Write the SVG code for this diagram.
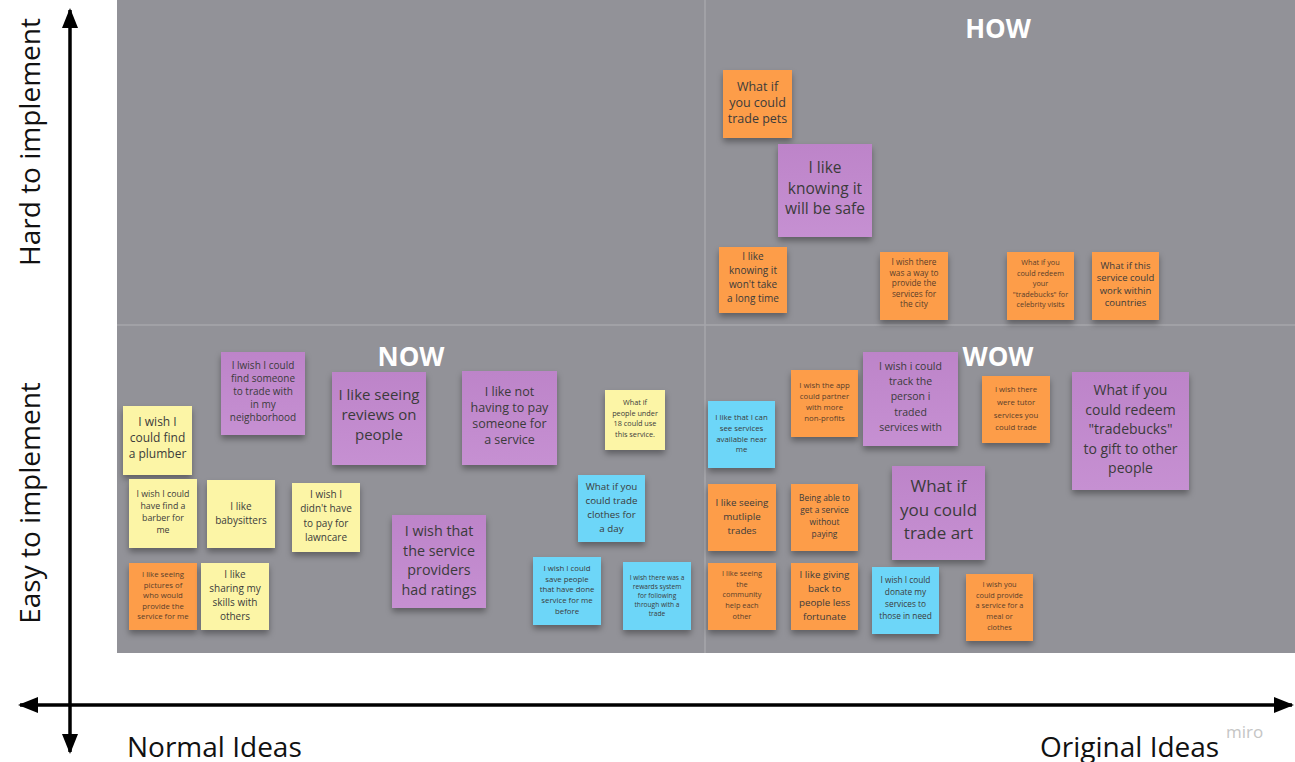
<svg xmlns="http://www.w3.org/2000/svg" width="1295" height="762" viewBox="0 0 1295 762">
<defs>
<filter id="sh" x="-20%" y="-20%" width="140%" height="150%"><feDropShadow dx="0" dy="4" stdDeviation="3" flood-color="#000" flood-opacity="0.35"/></filter>
<marker id="ah" viewBox="0 0 20 16" refX="18" refY="8" markerWidth="20" markerHeight="16" markerUnits="userSpaceOnUse" orient="auto-start-reverse"><path d="M0,0 L20,8 L0,16 Z" fill="#000"/></marker>
<linearGradient id="gp" x1="0" y1="0" x2="0" y2="1"><stop offset="0" stop-color="#bd84c9"/><stop offset="1" stop-color="#c690d2"/></linearGradient>
</defs>
<style>
.y{fill:#fcf5a6}.o{fill:#fd9d49}.p{fill:url(#gp)}.b{fill:#6dd6f8}
.n rect{filter:url(#sh)}
.n text{font-family:"Open Sans","Liberation Sans",sans-serif;fill:#3b3b3b;text-anchor:middle}
.n text.d{fill:#5a3e2a}
.t{font-family:"Open Sans","Liberation Sans",sans-serif;font-weight:bold;font-size:26px;fill:#fff;text-anchor:middle}
.ax{font-family:"Open Sans","Liberation Sans",sans-serif;font-size:28px;fill:#111}
</style>
<rect x="0" y="0" width="1295" height="762" fill="#fff"/>
<g id="board">
<rect x="117" y="0" width="1178" height="653" fill="#929298"/>
<line x1="705" y1="0" x2="705" y2="653" stroke="#a6a6ab" stroke-width="1.5"/>
<line x1="117" y1="325" x2="1295" y2="325" stroke="#a6a6ab" stroke-width="1.5"/>
</g>
<g id="titles">
<text class="t" x="998" y="38">HOW</text>
<text class="t" x="411" y="366">NOW</text>
<text class="t" x="998" y="366">WOW</text>
</g>
<!-- HOW -->
<g id="n1" class="n"><rect class="o" x="723" y="70" width="69" height="68"/><text font-size="12.5" y="91"><tspan x="757.5">What if</tspan><tspan x="757.5" dy="16">you could</tspan><tspan x="757.5" dy="16">trade pets</tspan></text></g>
<g id="n2" class="n"><rect class="p" x="778" y="144" width="94" height="93"/><text font-size="15.5" y="173"><tspan x="825">I like</tspan><tspan x="825" dy="20.5">knowing it</tspan><tspan x="825" dy="20.5">will be safe</tspan></text></g>
<g id="n3" class="n"><rect class="o" x="719" y="247" width="68" height="66"/><text font-size="10" y="260"><tspan x="753">I like</tspan><tspan x="753" dy="14">knowing it</tspan><tspan x="753" dy="14">won't take</tspan><tspan x="753" dy="14">a long time</tspan></text></g>
<g id="n4" class="n"><rect class="o" x="880" y="252" width="68" height="68"/><text class="d" font-size="8.3" y="265"><tspan x="914">I wish there</tspan><tspan x="914" dy="10.5">was a way to</tspan><tspan x="914" dy="10.5">provide the</tspan><tspan x="914" dy="10.5">services for</tspan><tspan x="914" dy="10.5">the city</tspan></text></g>
<g id="n5" class="n"><rect class="o" x="1007" y="252" width="67" height="68"/><text class="d" font-size="7.3" y="265"><tspan x="1040.5">What if you</tspan><tspan x="1040.5" dy="10.5">could redeem</tspan><tspan x="1040.5" dy="10.5">your</tspan><tspan x="1040.5" dy="10.5">"tradebucks" for</tspan><tspan x="1040.5" dy="10.5">celebrity visits</tspan></text></g>
<g id="n6" class="n"><rect class="o" x="1092" y="252" width="67" height="68"/><text font-size="9.5" y="269"><tspan x="1125.5">What if this</tspan><tspan x="1125.5" dy="12.3">service could</tspan><tspan x="1125.5" dy="12.3">work within</tspan><tspan x="1125.5" dy="12.3">countries</tspan></text></g>
<!-- NOW -->
<g id="n7" class="n"><rect class="p" x="221" y="352" width="84" height="83"/><text font-size="10" y="369"><tspan x="263">I lwish I could</tspan><tspan x="263" dy="13">find someone</tspan><tspan x="263" dy="13">to trade with</tspan><tspan x="263" dy="13">in my</tspan><tspan x="263" dy="13">neighborhood</tspan></text></g>
<g id="n8" class="n"><rect class="p" x="332" y="372" width="94" height="93"/><text font-size="15" y="400"><tspan x="379">I like seeing</tspan><tspan x="379" dy="20">reviews on</tspan><tspan x="379" dy="20">people</tspan></text></g>
<g id="n9" class="n"><rect class="y" x="123" y="406" width="69" height="69"/><text font-size="12" y="426"><tspan x="157.5">I wish I</tspan><tspan x="157.5" dy="16">could find</tspan><tspan x="157.5" dy="16">a plumber</tspan></text></g>
<g id="n10" class="n"><rect class="y" x="129" y="479" width="68" height="69"/><text font-size="8.8" y="497"><tspan x="163">I wish I could</tspan><tspan x="163" dy="12">have find a</tspan><tspan x="163" dy="12">barber for</tspan><tspan x="163" dy="12">me</tspan></text></g>
<g id="n11" class="n"><rect class="y" x="207" y="480" width="68" height="68"/><text font-size="10" y="509.5"><tspan x="241">I like</tspan><tspan x="241" dy="14">babysitters</tspan></text></g>
<g id="n12" class="n"><rect class="y" x="292" y="483" width="68" height="69"/><text font-size="10" y="498"><tspan x="326">I wish I</tspan><tspan x="326" dy="14.3">didn't have</tspan><tspan x="326" dy="14.3">to pay for</tspan><tspan x="326" dy="14.3">lawncare</tspan></text></g>
<g id="n13" class="n"><rect class="o" x="129" y="563" width="68" height="67"/><text class="d" font-size="7.8" y="577"><tspan x="163">I like seeing</tspan><tspan x="163" dy="10.5">pictures of</tspan><tspan x="163" dy="10.5">who would</tspan><tspan x="163" dy="10.5">provide the</tspan><tspan x="163" dy="10.5">service for me</tspan></text></g>
<g id="n14" class="n"><rect class="y" x="201" y="563" width="68" height="67"/><text font-size="10" y="578"><tspan x="235">I like</tspan><tspan x="235" dy="14">sharing my</tspan><tspan x="235" dy="14">skills with</tspan><tspan x="235" dy="14">others</tspan></text></g>
<g id="n15" class="n"><rect class="p" x="462" y="371" width="95" height="94"/><text font-size="12.5" y="395.5"><tspan x="509.5">I like not</tspan><tspan x="509.5" dy="16">having to pay</tspan><tspan x="509.5" dy="16">someone for</tspan><tspan x="509.5" dy="16">a service</tspan></text></g>
<g id="n16" class="n"><rect class="y" x="605" y="390" width="60" height="60"/><text font-size="7.3" y="405"><tspan x="635">What if</tspan><tspan x="635" dy="10.5">people under</tspan><tspan x="635" dy="10.5">18 could use</tspan><tspan x="635" dy="10.5">this service.</tspan></text></g>
<g id="n17" class="n"><rect class="b" x="578" y="475" width="67" height="67"/><text font-size="9.8" y="489.5"><tspan x="611.5">What if you</tspan><tspan x="611.5" dy="14.3">could trade</tspan><tspan x="611.5" dy="14.3">clothes for</tspan><tspan x="611.5" dy="14.3">a day</tspan></text></g>
<g id="n18" class="n"><rect class="p" x="392" y="515" width="94" height="93"/><text font-size="14.3" y="536"><tspan x="439">I wish that</tspan><tspan x="439" dy="19.5">the service</tspan><tspan x="439" dy="19.5">providers</tspan><tspan x="439" dy="19.5">had ratings</tspan></text></g>
<g id="n19" class="n"><rect class="b" x="533" y="557" width="68" height="68"/><text font-size="7.8" y="571"><tspan x="567">I wish I could</tspan><tspan x="567" dy="10.7">save people</tspan><tspan x="567" dy="10.7">that have done</tspan><tspan x="567" dy="10.7">service for me</tspan><tspan x="567" dy="10.7">before</tspan></text></g>
<g id="n20" class="n"><rect class="b" x="623" y="562" width="68" height="68"/><text font-size="6.6" y="579.5"><tspan x="657">I wish there was a</tspan><tspan x="657" dy="9">rewards system</tspan><tspan x="657" dy="9">for following</tspan><tspan x="657" dy="9">through with a</tspan><tspan x="657" dy="9">trade</tspan></text></g>
<!-- WOW -->
<g id="n21" class="n"><rect class="b" x="708" y="401" width="67" height="67"/><text font-size="7.8" y="420"><tspan x="741.5">I like that I can</tspan><tspan x="741.5" dy="10.8">see services</tspan><tspan x="741.5" dy="10.8">available near</tspan><tspan x="741.5" dy="10.8">me</tspan></text></g>
<g id="n22" class="n"><rect class="o" x="791" y="370" width="67" height="67"/><text class="d" font-size="7.8" y="388"><tspan x="824.5">I wish the app</tspan><tspan x="824.5" dy="11">could partner</tspan><tspan x="824.5" dy="11">with more</tspan><tspan x="824.5" dy="11">non-profits</tspan></text></g>
<g id="n23" class="n"><rect class="o" x="708" y="484" width="68" height="67"/><text font-size="9.8" y="505.5"><tspan x="742">I like seeing</tspan><tspan x="742" dy="14">mutliple</tspan><tspan x="742" dy="14">trades</tspan></text></g>
<g id="n24" class="n"><rect class="o" x="791" y="484" width="67" height="67"/><text font-size="8.4" y="501"><tspan x="824.5">Being able to</tspan><tspan x="824.5" dy="12">get a service</tspan><tspan x="824.5" dy="12">without</tspan><tspan x="824.5" dy="12">paying</tspan></text></g>
<g id="n25" class="n"><rect class="o" x="708" y="563" width="68" height="67"/><text class="d" font-size="7.4" y="576"><tspan x="742">I like seeing</tspan><tspan x="742" dy="10.7">the</tspan><tspan x="742" dy="10.7">community</tspan><tspan x="742" dy="10.7">help each</tspan><tspan x="742" dy="10.7">other</tspan></text></g>
<g id="n26" class="n"><rect class="o" x="791" y="563" width="67" height="67"/><text font-size="9.8" y="577.5"><tspan x="824.5">I like giving</tspan><tspan x="824.5" dy="14">back to</tspan><tspan x="824.5" dy="14">people less</tspan><tspan x="824.5" dy="14">fortunate</tspan></text></g>
<g id="n27" class="n"><rect class="p" x="863" y="352" width="95" height="94"/><text font-size="10.5" y="370"><tspan x="910.5">I wish i could</tspan><tspan x="910.5" dy="15.2">track the</tspan><tspan x="910.5" dy="15.2">person i</tspan><tspan x="910.5" dy="15.2">traded</tspan><tspan x="910.5" dy="15.2">services with</tspan></text></g>
<g id="n28" class="n"><rect class="o" x="982" y="376" width="68" height="67"/><text class="d" font-size="7.8" y="392"><tspan x="1016">I wish there</tspan><tspan x="1016" dy="12.8">were tutor</tspan><tspan x="1016" dy="12.8">services you</tspan><tspan x="1016" dy="12.8">could trade</tspan></text></g>
<g id="n29" class="n"><rect class="p" x="1072" y="372" width="117" height="118"/><text font-size="14" y="395"><tspan x="1130.5">What if you</tspan><tspan x="1130.5" dy="19.5">could redeem</tspan><tspan x="1130.5" dy="19.5">"tradebucks"</tspan><tspan x="1130.5" dy="19.5">to gift to other</tspan><tspan x="1130.5" dy="19.5">people</tspan></text></g>
<g id="n30" class="n"><rect class="p" x="892" y="466" width="93" height="94"/><text font-size="17" y="492"><tspan x="938.5">What if</tspan><tspan x="938.5" dy="23.5">you could</tspan><tspan x="938.5" dy="23.5">trade art</tspan></text></g>
<g id="n31" class="n"><rect class="b" x="872" y="567" width="67" height="67"/><text font-size="8.3" y="583"><tspan x="905.5">I wish I could</tspan><tspan x="905.5" dy="12">donate  my</tspan><tspan x="905.5" dy="12">services to</tspan><tspan x="905.5" dy="12">those in need</tspan></text></g>
<g id="n32" class="n"><rect class="o" x="966" y="574" width="67" height="67"/><text class="d" font-size="7.4" y="587"><tspan x="999.5">I wish you</tspan><tspan x="999.5" dy="10.7">could provide</tspan><tspan x="999.5" dy="10.7">a service for a</tspan><tspan x="999.5" dy="10.7">meal or</tspan><tspan x="999.5" dy="10.7">clothes</tspan></text></g>
<!-- axes -->
<g id="connectors">
<line x1="70" y1="10" x2="70" y2="752" stroke="#000" stroke-width="3.5" marker-start="url(#ah)" marker-end="url(#ah)"/>
<line x1="20" y1="705" x2="1292" y2="705" stroke="#000" stroke-width="3.5" marker-start="url(#ah)" marker-end="url(#ah)"/>
</g>
<g id="labels">
<text class="ax" text-anchor="middle" transform="translate(40,142) rotate(-90)">Hard to implement</text>
<text class="ax" text-anchor="middle" transform="translate(40,503) rotate(-90)">Easy to implement</text>
<text class="ax" x="127" y="757">Normal Ideas</text>
<text class="ax" x="1040" y="757">Original Ideas</text>
<text x="1226" y="738" font-family="Open Sans, Liberation Sans, sans-serif" font-size="17" fill="#c5c5c5">miro</text>
</g>
</svg>
